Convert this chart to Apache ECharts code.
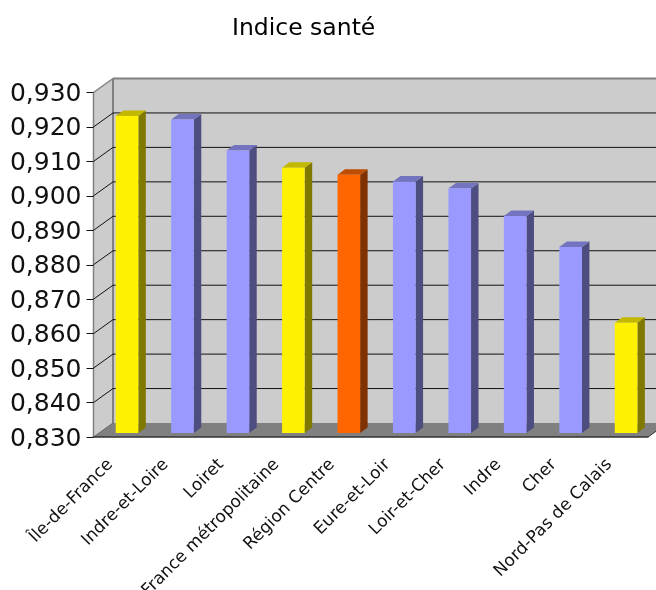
<!DOCTYPE html>
<html><head><meta charset="utf-8">
<style>html,body{margin:0;padding:0;background:#fff}#c{width:656px;height:590px}</style>
<script src="https://cdn.jsdelivr.net/npm/echarts@6/dist/echarts.min.js"></script>
</head><body><div id="c"></div>
<script>
const categories = ['Île-de-France','Indre-et-Loire','Loiret','France métropolitaine','Région Centre','Eure-et-Loir','Loir-et-Cher','Indre','Cher','Nord-Pas de Calais'];
const values = [0.922,0.921,0.912,0.907,0.905,0.903,0.901,0.893,0.884,0.862];
const groups = ['y','b','b','y','o','b','b','b','b','y'];
const yTicks = [0.83,0.84,0.85,0.86,0.87,0.88,0.89,0.90,0.91,0.92,0.93];
const palette = {
  y:{front:'#FFF200',top:'#C2B800',side:'#807900'},
  b:{front:'#9999FF',top:'#7373BF',side:'#4D4D80'},
  o:{front:'#FF6600',top:'#BF4D00',side:'#803300'}
};
const wallDX = 19.5, wallDY = -14, barDX = 7.5, barDY = -5.5, barDepth = 4, barShift = 5.8, barW = 22.6;
const chart = echarts.init(document.getElementById('c'), null, {renderer:'canvas'});
function poly(points, fill, z2){ return {type:'polygon', z2:z2||0, shape:{points}, style:{fill}}; }
function line(x1,y1,x2,y2,stroke,w,z2){ return {type:'line', z2:z2||0, shape:{x1,y1,x2,y2}, style:{stroke,lineWidth:w}}; }
function renderWalls(params, api){
  const cs = params.coordSys, L=cs.x, R=cs.x+cs.width, T=cs.y, B=cs.y+cs.height;
  return {type:'group', children:[
    poly([[L+wallDX,T+wallDY],[R+wallDX,T+wallDY],[R+wallDX,B+wallDY],[L+wallDX,B+wallDY]],'#CCCCCC'),
    poly([[L,T],[L+wallDX,T+wallDY],[L+wallDX,B+wallDY],[L,B]],'#CCCCCC'),
    poly([[L,B],[L+wallDX,B+wallDY],[R+wallDX,B+wallDY],[R,B]],'#808080'),
    line(L+wallDX,T+wallDY,R+wallDX,T+wallDY,'#808080',2,2),
    line(L+wallDX,T+wallDY,L+wallDX,B+wallDY,'#808080',2,2),
    line(L,T,L+wallDX,T+wallDY,'#808080',1.5,2),
    line(L,T,L,B,'#808080',1.5,2),
    line(L,B,L+wallDX,B+wallDY,'#666666',1,2),
    line(R,B,R+wallDX,B+wallDY,'#333333',1,2)
  ]};
}
function renderGrid(params, api){
  const v = api.value(1), y = api.coord([0,v])[1], cs = params.coordSys, L=cs.x, R=cs.x+cs.width;
  const inner = v>0.83 && v<0.93;
  const kids = [];
  if(inner){
    kids.push(line(L,y,L+wallDX,y+wallDY,'#111111',1,1));
    kids.push(line(L+wallDX,y+wallDY,R+wallDX,y+wallDY,'#111111',1,1));
  }
  return {type:'group', children:kids};
}
function renderBar(params, api){
  const i = api.value(0), v = api.value(1);
  const c = palette[groups[params.dataIndex]];
  const top = api.coord([i,v]), base = api.coord([i,yTicks[0]]);
  const x0 = top[0]+barShift-barW/2, x1 = x0+barW, yT = top[1]-barDepth, yB = base[1]-barDepth;
  return {type:'group', children:[
    poly([[x1,yT],[x1+barDX,yT+barDY],[x1+barDX,yB+barDY],[x1,yB]],c.side),
    poly([[x0,yT],[x0+barDX,yT+barDY],[x1+barDX,yT+barDY],[x1,yT]],c.top),
    poly([[x0,yT],[x1,yT],[x1,yB],[x0,yB]],c.front)
  ]};
}
chart.setOption({
  animation:false,
  backgroundColor:'#fff',
  title:{text:'Indice santé', left:227, top:12,
    textStyle:{fontFamily:'DejaVu Sans',fontSize:23.5,fontWeight:'normal',color:'#000'}},
  grid:{left:93.5, top:92.5, width:554.5, height:344.5, containLabel:false, outerBoundsMode:'none'},
  xAxis:{type:'category', data:categories, z:5,
    axisLine:{lineStyle:{color:'#333333',width:1.5}},
    axisTick:{alignWithLabel:false,length:6,lineStyle:{color:'#333333',width:1}},
    axisLabel:{interval:0,rotate:45,margin:14,padding:[0,15.5,0,0],fontFamily:'DejaVu Sans',fontSize:17,color:'#111'}},
  yAxis:{type:'value', min:yTicks[0], max:yTicks[yTicks.length-1], interval:0.01, z:5,
    axisLine:{show:false},
    axisTick:{show:true,length:7,lineStyle:{color:'#111111',width:1}},
    splitLine:{show:false},
    axisLabel:{margin:12,verticalAlign:'top',lineHeight:4,fontFamily:'DejaVu Sans',fontSize:25,color:'#111',
      formatter:v=>v.toFixed(3).replace('.',',')}},
  series:[
    {type:'custom',name:'walls',coordinateSystem:'cartesian2d',clip:false,silent:true,z:1,data:[[0,yTicks[0]]],renderItem:renderWalls},
    {type:'custom',name:'grid',coordinateSystem:'cartesian2d',clip:false,silent:true,z:2,data:yTicks.map(t=>[0,t]),renderItem:renderGrid},
    {type:'custom',name:'Indice santé',coordinateSystem:'cartesian2d',clip:false,z:3,data:values.map((v,i)=>[i,v]),renderItem:renderBar}
  ]
});
</script></body></html>
